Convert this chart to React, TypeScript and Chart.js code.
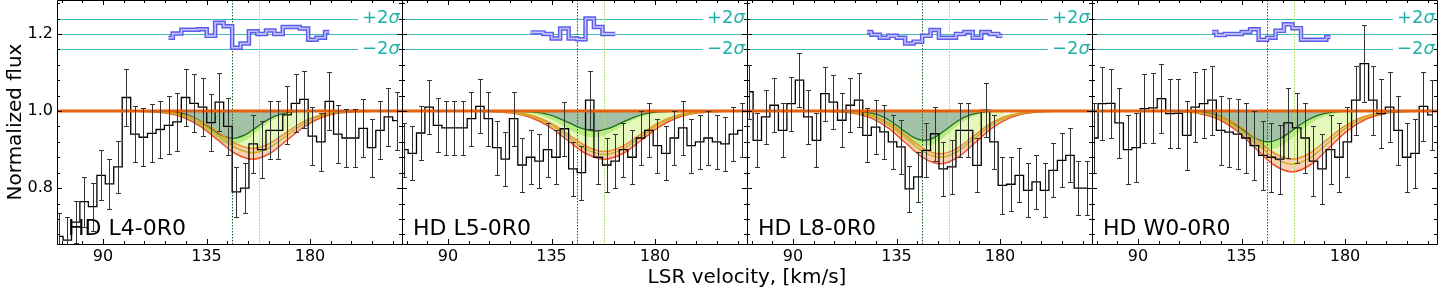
import React, { useEffect, useRef } from 'react';
import { Chart, registerables } from 'chart.js';
Chart.register(...registerables);
Chart.defaults.font.family = "'DejaVu Sans'";

const W = 1440;
const H = 288;
const PLOT_LEFT = 57;
const PANEL_W = 345;
const PLOT_BOTTOM = 244;
const X_MIN = 70;
const X_MAX = 220;
const Y_MIN = 0.655;
const Y_MAX = 1.288;

const velocity = [70.8, 74.5, 78.1, 81.8, 85.5, 89.2, 92.8, 96.5, 100.2, 103.9, 107.5, 111.2, 114.9, 118.5, 122.2, 125.9, 129.6, 133.3, 136.9, 140.6, 144.3, 148.0, 151.6, 155.3, 159.0, 162.7, 166.3, 170.0, 173.7, 177.4, 181.0, 184.7, 188.4, 192.1, 195.7, 199.4, 203.1, 206.8, 210.4, 214.1, 217.8];

const xMajorTicks = [90, 135, 180];
const xMinorTicks = [72, 81, 99, 108, 117, 126, 144, 153, 162, 171, 189, 198, 207, 216];
const yMajorTicks = [0.8, 1.0, 1.2];
const yMinorTicks = [0.68, 0.72, 0.76, 0.84, 0.88, 0.92, 0.96, 1.04, 1.08, 1.12, 1.16, 1.24, 1.28];

const panelLabels = ['HD L4-0R0', 'HD L5-0R0', 'HD L8-0R0', 'HD W0-0R0'];
const darkRefVelocity = 146;
const lightRefVelocity = 158;
const residualCenter = 1.2;
const residualPlus = 1.24;
const residualMinus = 1.16;

// ---- observed flux ----
const fluxL4 = [0.675, 0.665, 0.712, 0.765, 0.752, 0.833, 0.811, 0.855, 1.035, 0.94, 0.932, 0.942, 0.952, 0.963, 0.972, 1.035, 1.02, 1.01, 0.97, 1.023, 0.96, 0.79, 0.80, 0.915, 0.90, 0.95, 0.95, 0.99, 1.02, 1.03, 0.935, 0.92, 1.025, 0.94, 0.93, 0.93, 0.955, 0.905, 0.95, 0.985, 0.975];
const errL4 = [0.06, 0.06, 0.055, 0.065, 0.062, 0.065, 0.065, 0.068, 0.073, 0.072, 0.075, 0.075, 0.075, 0.075, 0.075, 0.075, 0.075, 0.075, 0.075, 0.075, 0.075, 0.065, 0.065, 0.075, 0.075, 0.075, 0.075, 0.075, 0.075, 0.075, 0.075, 0.075, 0.075, 0.075, 0.075, 0.075, 0.075, 0.075, 0.075, 0.075, 0.075];
const fluxL5 = [0.90, 0.89, 0.943, 1.01, 0.963, 0.956, 0.956, 0.956, 0.98, 1.012, 0.98, 0.905, 0.875, 0.98, 0.86, 0.88, 0.87, 0.90, 0.88, 0.954, 0.85, 0.84, 1.028, 0.88, 0.86, 0.87, 0.90, 0.88, 0.93, 0.95, 0.91, 0.89, 0.93, 0.956, 0.91, 0.92, 0.93, 0.92, 0.915, 0.94, 0.95];
const errL5 = [0.07, 0.07, 0.07, 0.07, 0.07, 0.07, 0.07, 0.07, 0.07, 0.07, 0.07, 0.07, 0.07, 0.07, 0.07, 0.07, 0.07, 0.07, 0.07, 0.07, 0.07, 0.07, 0.075, 0.07, 0.07, 0.07, 0.07, 0.07, 0.07, 0.07, 0.07, 0.07, 0.07, 0.07, 0.07, 0.07, 0.07, 0.07, 0.07, 0.07, 0.07];
const fluxL8 = [1.05, 0.924, 0.985, 1.015, 0.95, 1.019, 1.08, 0.985, 0.924, 1.045, 1.023, 0.976, 1.015, 1.028, 0.937, 0.958, 0.946, 0.92, 0.907, 0.798, 0.829, 0.898, 0.941, 0.85, 0.855, 0.95, 0.95, 0.859, 1.002, 0.92, 0.807, 0.81, 0.833, 0.794, 0.816, 0.794, 0.846, 0.872, 0.885, 0.80, 0.80];
const errL8 = [0.07, 0.07, 0.07, 0.07, 0.07, 0.07, 0.07, 0.07, 0.07, 0.07, 0.07, 0.07, 0.07, 0.07, 0.07, 0.07, 0.07, 0.07, 0.07, 0.06, 0.065, 0.07, 0.07, 0.07, 0.07, 0.07, 0.07, 0.07, 0.07, 0.07, 0.073, 0.07, 0.07, 0.07, 0.07, 0.07, 0.07, 0.07, 0.07, 0.07, 0.07];
const fluxW0 = [0.93, 1.019, 1.02, 0.969, 0.90, 0.905, 1.006, 1.008, 1.032, 0.993, 0.994, 0.937, 1.01, 1.019, 1.028, 0.95, 0.945, 0.94, 0.93, 0.91, 0.885, 0.88, 0.875, 0.969, 0.956, 0.93, 0.87, 0.85, 0.90, 0.88, 0.92, 1.028, 1.123, 1.028, 0.993, 1.01, 0.95, 0.88, 0.89, 1.012, 0.99];
const errW0 = [0.09, 0.095, 0.09, 0.09, 0.09, 0.09, 0.09, 0.09, 0.09, 0.09, 0.09, 0.09, 0.09, 0.09, 0.09, 0.09, 0.09, 0.09, 0.09, 0.09, 0.09, 0.09, 0.09, 0.09, 0.09, 0.09, 0.09, 0.09, 0.09, 0.09, 0.09, 0.09, 0.1, 0.09, 0.09, 0.09, 0.09, 0.09, 0.09, 0.09, 0.09];

// ---- residuals (offset to 1.2) ----
const resStartL4 = 13;
const resL4 = [1.19, 1.201, 1.211, 1.211, 1.212, 1.195, 1.229, 1.22, 1.164, 1.175, 1.207, 1.20, 1.209, 1.20, 1.218, 1.218, 1.214, 1.185, 1.19, 1.205];
const resStartL5 = 15;
const resL5 = [1.204, 1.204, 1.2, 1.188, 1.214, 1.188, 1.186, 1.24, 1.218, 1.2, 1.2];
const resStartL8 = 14;
const resL8 = [1.205, 1.198, 1.19, 1.195, 1.19, 1.175, 1.18, 1.195, 1.21, 1.19, 1.19, 1.2, 1.205, 1.19, 1.205, 1.2, 1.195];
const resStartW0 = 14;
const resW0 = [1.205, 1.197, 1.2, 1.2, 1.205, 1.212, 1.185, 1.19, 1.208, 1.225, 1.215, 1.185, 1.185, 1.185, 1.192];

// ---- model curves ----
const c1V_L4 = [111.5, 116.5, 121.5, 126.5, 131.5, 136.5, 141.5, 146.5, 151.5, 156.5, 161.5, 166.5, 171.5, 176.5, 181.5];
const c1F_L4 = [0.9998, 0.9992, 0.9969, 0.9904, 0.9769, 0.9569, 0.9373, 0.929, 0.9373, 0.9569, 0.9769, 0.9904, 0.9969, 0.9992, 0.9998];
const c1lV_L4 = [107.5, 113, 118.5, 124, 129.5, 135, 140.5, 146, 151.5, 157, 162.5, 168, 173.5, 179, 184.5];
const c1lF_L4 = [0.9998, 0.999, 0.9961, 0.9881, 0.9714, 0.9466, 0.9223, 0.912, 0.9223, 0.9466, 0.9714, 0.9881, 0.9961, 0.999, 0.9998];
const upV_L4 = [106, 113, 120, 127, 134, 141, 148, 155, 162, 169, 176, 183, 190, 197, 204];
const upF_L4 = [0.9998, 0.9989, 0.9957, 0.9869, 0.9685, 0.9412, 0.9144, 0.903, 0.9144, 0.9412, 0.9685, 0.9869, 0.9957, 0.9989, 0.9998];
const midV_L4 = [104.25, 111.5, 118.75, 126, 133.25, 140.5, 147.75, 155, 162.25, 169.5, 176.75, 184, 191.25, 198.5, 205.75];
const midF_L4 = [0.9998, 0.9988, 0.9953, 0.9854, 0.9649, 0.9345, 0.9047, 0.892, 0.9047, 0.9345, 0.9649, 0.9854, 0.9953, 0.9988, 0.9998];
const lowV_L4 = [102.5, 110, 117.5, 125, 132.5, 140, 147.5, 155, 162.5, 170, 177.5, 185, 192.5, 200, 207.5];
const lowF_L4 = [0.9997, 0.9986, 0.9945, 0.9831, 0.9594, 0.9242, 0.8897, 0.875, 0.8897, 0.9242, 0.9594, 0.9831, 0.9945, 0.9986, 0.9997];

const c1V_L5 = [115.5, 121, 126.5, 132, 137.5, 143, 148.5, 154, 159.5, 165, 170.5, 176, 181.5, 187, 192.5];
const c1F_L5 = [0.9999, 0.9994, 0.9977, 0.993, 0.9831, 0.9685, 0.9541, 0.948, 0.9541, 0.9685, 0.9831, 0.993, 0.9977, 0.9994, 0.9999];
const c1lV_L5 = [111, 117, 123, 129, 135, 141, 147, 153, 159, 165, 171, 177, 183, 189, 195];
const c1lF_L5 = [0.9999, 0.9992, 0.997, 0.9908, 0.9779, 0.9588, 0.94, 0.932, 0.94, 0.9588, 0.9779, 0.9908, 0.997, 0.9992, 0.9999];
const upV_L5 = [105.5, 113, 120.5, 128, 135.5, 143, 150.5, 158, 165.5, 173, 180.5, 188, 195.5, 203, 210.5];
const upF_L5 = [0.9998, 0.9988, 0.9954, 0.9858, 0.9659, 0.9363, 0.9073, 0.895, 0.9073, 0.9363, 0.9659, 0.9858, 0.9954, 0.9988, 0.9998];
const midV_L5 = [103.75, 111.5, 119.25, 127, 134.75, 142.5, 150.25, 158, 165.75, 173.5, 181.25, 189, 196.75, 204.5, 212.25];
const midF_L5 = [0.9998, 0.9987, 0.995, 0.9847, 0.9633, 0.9315, 0.9003, 0.887, 0.9003, 0.9315, 0.9633, 0.9847, 0.995, 0.9987, 0.9998];
const lowV_L5 = [102, 110, 118, 126, 134, 142, 150, 158, 166, 174, 182, 190, 198, 206, 214];
const lowF_L5 = [0.9997, 0.9986, 0.9945, 0.9831, 0.9594, 0.9242, 0.8897, 0.875, 0.8897, 0.9242, 0.9594, 0.9831, 0.9945, 0.9986, 0.9997];

const c1V_L8 = [112, 117, 122, 127, 132, 137, 142, 147, 152, 157, 162, 167, 172, 177, 182];
const c1F_L8 = [0.9998, 0.9992, 0.9967, 0.9897, 0.9753, 0.9539, 0.9329, 0.924, 0.9329, 0.9539, 0.9753, 0.9897, 0.9967, 0.9992, 0.9998];
const c1lV_L8 = [108.5, 114, 119.5, 125, 130.5, 136, 141.5, 147, 152.5, 158, 163.5, 169, 174.5, 180, 185.5];
const c1lF_L8 = [0.9998, 0.999, 0.996, 0.9876, 0.9701, 0.9442, 0.9188, 0.908, 0.9188, 0.9442, 0.9701, 0.9876, 0.996, 0.999, 0.9998];
const upV_L8 = [105, 112, 119, 126, 133, 140, 147, 154, 161, 168, 175, 182, 189, 196, 203];
const upF_L8 = [0.9998, 0.9988, 0.9951, 0.985, 0.964, 0.9327, 0.902, 0.889, 0.902, 0.9327, 0.964, 0.985, 0.9951, 0.9988, 0.9998];
const midV_L8 = [103.25, 110.5, 117.75, 125, 132.25, 139.5, 146.75, 154, 161.25, 168.5, 175.75, 183, 190.25, 197.5, 204.75];
const midF_L8 = [0.9997, 0.9987, 0.9947, 0.9838, 0.961, 0.9272, 0.8941, 0.88, 0.8941, 0.9272, 0.961, 0.9838, 0.9947, 0.9987, 0.9997];
const lowV_L8 = [101.5, 109, 116.5, 124, 131.5, 139, 146.5, 154, 161.5, 169, 176.5, 184, 191.5, 199, 206.5];
const lowF_L8 = [0.9997, 0.9985, 0.994, 0.9815, 0.9555, 0.9169, 0.8791, 0.863, 0.8791, 0.9169, 0.9555, 0.9815, 0.994, 0.9985, 0.9997];

const c1V_W0 = [108, 113.5, 119, 124.5, 130, 135.5, 141, 146.5, 152, 157.5, 163, 168.5, 174, 179.5, 185];
const c1F_W0 = [0.9998, 0.9991, 0.9965, 0.9892, 0.974, 0.9515, 0.9294, 0.92, 0.9294, 0.9515, 0.974, 0.9892, 0.9965, 0.9991, 0.9998];
const c1lV_W0 = [105, 111, 117, 123, 129, 135, 141, 147, 153, 159, 165, 171, 177, 183, 189];
const c1lF_W0 = [0.9998, 0.9989, 0.9956, 0.9865, 0.9675, 0.9394, 0.9118, 0.9, 0.9118, 0.9394, 0.9675, 0.9865, 0.9956, 0.9989, 0.9998];
const upV_W0 = [104.5, 112, 119.5, 127, 134.5, 142, 149.5, 157, 164.5, 172, 179.5, 187, 194.5, 202, 209.5];
const upF_W0 = [0.9997, 0.9986, 0.9945, 0.9831, 0.9594, 0.9242, 0.8897, 0.875, 0.8897, 0.9242, 0.9594, 0.9831, 0.9945, 0.9986, 0.9997];
const midV_W0 = [102.75, 110.5, 118.25, 126, 133.75, 141.5, 149.25, 157, 164.75, 172.5, 180.25, 188, 195.75, 203.5, 211.25];
const midF_W0 = [0.9997, 0.9985, 0.9939, 0.9813, 0.9552, 0.9163, 0.8782, 0.862, 0.8782, 0.9163, 0.9552, 0.9813, 0.9939, 0.9985, 0.9997];
const lowV_W0 = [101, 109, 117, 125, 133, 141, 149, 157, 165, 173, 181, 189, 197, 205, 213];
const lowF_W0 = [0.9997, 0.9982, 0.9931, 0.9786, 0.9487, 0.9042, 0.8606, 0.842, 0.8606, 0.9042, 0.9487, 0.9786, 0.9931, 0.9982, 0.9997];

const panels = [
  { label: panelLabels[0], flux: fluxL4, err: errL4, resStart: resStartL4, res: resL4, c1V: c1V_L4, c1F: c1F_L4, c1lV: c1lV_L4, c1lF: c1lF_L4, upV: upV_L4, upF: upF_L4, midV: midV_L4, midF: midF_L4, lowV: lowV_L4, lowF: lowF_L4 },
  { label: panelLabels[1], flux: fluxL5, err: errL5, resStart: resStartL5, res: resL5, c1V: c1V_L5, c1F: c1F_L5, c1lV: c1lV_L5, c1lF: c1lF_L5, upV: upV_L5, upF: upF_L5, midV: midV_L5, midF: midF_L5, lowV: lowV_L5, lowF: lowF_L5 },
  { label: panelLabels[2], flux: fluxL8, err: errL8, resStart: resStartL8, res: resL8, c1V: c1V_L8, c1F: c1F_L8, c1lV: c1lV_L8, c1lF: c1lF_L8, upV: upV_L8, upF: upF_L8, midV: midV_L8, midF: midF_L8, lowV: lowV_L8, lowF: lowF_L8 },
  { label: panelLabels[3], flux: fluxW0, err: errW0, resStart: resStartW0, res: resW0, c1V: c1V_W0, c1F: c1F_W0, c1lV: c1lV_W0, c1lF: c1lF_W0, upV: upV_W0, upF: upF_W0, midV: midV_W0, midF: midF_W0, lowV: lowV_W0, lowF: lowF_W0 },
];

const TEAL = '#20b2aa';
const CLEAR = 'rgba(0,0,0,0)';

function pts(xs: number[], ys: number[]) {
  return xs.map((x, i) => ({ x, y: ys[i] }));
}

function PanelChart({ index }: { index: number }) {
  const ref = useRef<HTMLCanvasElement>(null);
  useEffect(() => {
    const p = panels[index];
    const left = PLOT_LEFT + PANEL_W * index;
    const right = left + PANEL_W;
    const resVel = velocity.slice(p.resStart, p.resStart + p.res.length);
    const smooth = { cubicInterpolationMode: 'monotone' as const, pointRadius: 0 };
    const datasets: any[] = [
      { data: [{ x: X_MIN, y: 1 }, { x: X_MAX, y: 1 }], borderColor: '#e5600c', borderWidth: 2.8, order: 0, fill: false, pointRadius: 0 },
      { data: pts(velocity, p.flux), borderColor: '#000000', borderWidth: 1.3, stepped: 'middle', order: 1, fill: false, pointRadius: 0 },
      { data: pts(resVel, p.res), borderColor: 'rgb(92,92,238)', borderWidth: 4.5, stepped: 'middle', order: 3, fill: false, pointRadius: 0 },
      { data: pts(resVel, p.res), borderColor: 'rgb(196,196,250)', borderWidth: 1.6, stepped: 'middle', order: 2, fill: false, pointRadius: 0 },
      { data: pts(p.c1V, p.c1F), borderColor: '#1f6b26', borderWidth: 1.3, order: 9, fill: { target: 0, above: CLEAR, below: 'rgba(48,118,60,0.45)' }, ...smooth },
      { data: pts(p.c1lV, p.c1lF), borderColor: CLEAR, borderWidth: 0, order: 8, fill: { target: 4, above: CLEAR, below: 'rgba(100,222,60,0.6)' }, ...smooth },
      { data: pts(p.upV, p.upF), borderColor: '#e8912d', borderWidth: 1.5, order: 7, fill: { target: 4, above: CLEAR, below: 'rgba(205,240,120,0.5)' }, ...smooth },
      { data: pts(p.lowV, p.lowF), borderColor: '#f0502a', borderWidth: 1.5, order: 6, fill: { target: 6, above: CLEAR, below: 'rgba(246,150,100,0.45)' }, ...smooth },
      { data: pts(p.midV, p.midF), borderColor: '#c9b41e', borderWidth: 1.5, order: 5, fill: false, ...smooth },
    ];

    const decor = {
      id: 'decor' + index,
      beforeDatasetsDraw(chart: any) {
        const { ctx, chartArea: a, scales } = chart;
        const y = scales.y;
        const x = scales.x;
        ctx.save();
        ctx.beginPath();
        ctx.rect(a.left, a.top, a.right - a.left, a.bottom - a.top);
        ctx.clip();
        ctx.lineWidth = 1;
        ctx.strokeStyle = 'rgba(32,178,170,0.85)';
        const yc = Math.round(y.getPixelForValue(residualCenter)) + 0.5;
        ctx.beginPath();
        ctx.moveTo(a.left, yc);
        ctx.lineTo(a.right, yc);
        ctx.stroke();
        [residualPlus, residualMinus].forEach((v) => {
          const yy = Math.round(y.getPixelForValue(v)) + 0.5;
          ctx.beginPath();
          ctx.moveTo(a.left, yy);
          ctx.lineTo(a.right - 44, yy);
          ctx.stroke();
        });
        const xd = Math.round(x.getPixelForValue(darkRefVelocity)) + 0.5;
        ctx.strokeStyle = '#1e5e22';
        ctx.setLineDash([1.5, 1.5]);
        ctx.beginPath();
        ctx.moveTo(xd, a.top);
        ctx.lineTo(xd, a.bottom);
        ctx.stroke();
        const xl = Math.round(x.getPixelForValue(lightRefVelocity)) + 0.5;
        ctx.strokeStyle = '#b2e07a';
        ctx.setLineDash([2, 1]);
        ctx.beginPath();
        ctx.moveTo(xl, a.top);
        ctx.lineTo(xl, a.bottom);
        ctx.stroke();
        ctx.restore();
      },
      afterDatasetsDraw(chart: any) {
        const { ctx, chartArea: a, scales } = chart;
        const y = scales.y;
        const x = scales.x;
        ctx.save();
        ctx.beginPath();
        ctx.rect(a.left, a.top, a.right - a.left, a.bottom - a.top);
        ctx.clip();
        ctx.strokeStyle = '#333333';
        ctx.lineWidth = 1;
        velocity.forEach((v, i) => {
          const px = Math.round(x.getPixelForValue(v)) + 0.5;
          const y1 = Math.round(y.getPixelForValue(p.flux[i] + p.err[i])) + 0.5;
          const y2 = Math.round(y.getPixelForValue(p.flux[i] - p.err[i])) + 0.5;
          ctx.beginPath();
          ctx.moveTo(px, y1);
          ctx.lineTo(px, y2);
          ctx.moveTo(px - 2.5, y1);
          ctx.lineTo(px + 2.5, y1);
          ctx.moveTo(px - 2.5, y2);
          ctx.lineTo(px + 2.5, y2);
          ctx.stroke();
        });
        ctx.restore();
      },
      afterDraw(chart: any) {
        const { ctx, chartArea: a, scales } = chart;
        const y = scales.y;
        const x = scales.x;
        ctx.save();
        ctx.strokeStyle = '#000';
        ctx.lineWidth = 1;
        ctx.beginPath();
        ctx.moveTo(a.left + 0.5, a.top + 0.5);
        ctx.lineTo(a.right + 0.5, a.top + 0.5);
        ctx.lineTo(a.right + 0.5, a.bottom + 0.5);
        ctx.lineTo(a.left + 0.5, a.bottom + 0.5);
        ctx.closePath();
        ctx.stroke();
        const xt = (v: number, len: number) => {
          const px = Math.round(x.getPixelForValue(v)) + 0.5;
          ctx.moveTo(px, a.bottom);
          ctx.lineTo(px, a.bottom - len);
          ctx.moveTo(px, a.top);
          ctx.lineTo(px, a.top + len);
        };
        const yt = (v: number, len: number) => {
          const py = Math.round(y.getPixelForValue(v)) + 0.5;
          ctx.moveTo(a.left, py);
          ctx.lineTo(a.left + len, py);
          ctx.moveTo(a.right, py);
          ctx.lineTo(a.right - len, py);
        };
        ctx.beginPath();
        xMajorTicks.forEach((v) => xt(v, 5));
        xMinorTicks.forEach((v) => xt(v, 3));
        yMajorTicks.forEach((v) => yt(v, 5));
        yMinorTicks.forEach((v) => yt(v, 3));
        ctx.stroke();

        ctx.fillStyle = '#000';
        ctx.font = "22px 'DejaVu Sans'";
        ctx.textAlign = 'left';
        ctx.textBaseline = 'alphabetic';
        ctx.fillText(p.label, a.left + 11, 235);

        ctx.fillStyle = TEAL;
        ctx.textBaseline = 'middle';
        const drawSigma = (sign: string, v: number) => {
          const py = y.getPixelForValue(v);
          const x0 = a.right - 40;
          ctx.font = "18px 'DejaVu Sans'";
          ctx.fillText(sign + '2', x0, py);
          const w = ctx.measureText(sign + '2').width;
          ctx.font = "italic 18px 'DejaVu Sans'";
          ctx.fillText('σ', x0 + w, py);
        };
        drawSigma('+', residualPlus);
        drawSigma('−', residualMinus);

        if (index === 0) {
          ctx.fillStyle = '#000';
          ctx.font = "20px 'DejaVu Sans'";
          ctx.textAlign = 'center';
          ctx.textBaseline = 'alphabetic';
          ctx.fillText('LSR velocity, [km/s]', (PLOT_LEFT + PLOT_LEFT + PANEL_W * 4) / 2, 283);
          ctx.save();
          ctx.translate(21, (a.top + a.bottom) / 2);
          ctx.rotate(-Math.PI / 2);
          ctx.fillText('Normalized flux', 0, 0);
          ctx.restore();
        }
        ctx.restore();
      },
    };

    const chart = new Chart(ref.current as HTMLCanvasElement, {
      type: 'line',
      data: { datasets },
      options: {
        responsive: false,
        animation: false,
        events: [],
        layout: { padding: { left: index === 0 ? 0 : left, right: W - right, top: 0, bottom: 0 } },
        elements: { point: { radius: 0 } },
        plugins: {
          legend: { display: false },
          tooltip: { enabled: false },
          filler: { drawTime: 'beforeDatasetsDraw', propagate: false },
        } as any,
        scales: {
          x: {
            type: 'linear',
            min: X_MIN,
            max: X_MAX,
            grid: { display: false, drawTicks: false },
            border: { display: false },
            afterBuildTicks: (s: any) => {
              s.ticks = xMajorTicks.map((v) => ({ value: v }));
            },
            afterFit: (s: any) => {
              s.height = H - PLOT_BOTTOM;
              s.paddingLeft = 0;
              s.paddingRight = 0;
            },
            ticks: {
              autoSkip: false,
              maxRotation: 0,
              padding: 3,
              color: '#000',
              font: { size: 16 },
              callback: (v: any) => String(v),
            },
          },
          y: {
            type: 'linear',
            display: index === 0,
            min: Y_MIN,
            max: Y_MAX,
            grid: { display: false, drawTicks: false },
            border: { display: false },
            afterBuildTicks: (s: any) => {
              s.ticks = yMajorTicks.map((v) => ({ value: v }));
            },
            afterFit: (s: any) => {
              s.width = index === 0 ? PLOT_LEFT : 0;
              s.paddingTop = 0;
              s.paddingBottom = 0;
            },
            ticks: {
              padding: 4,
              color: '#000',
              font: { size: 16 },
              callback: (v: any) => Number(v).toFixed(1),
            },
          },
        },
      } as any,
      plugins: [decor],
    });
    return () => chart.destroy();
  }, [index]);
  return (
    <canvas
      ref={ref}
      width={W}
      height={H}
      style={{ position: 'absolute', left: 0, top: 0, width: W, height: H }}
    />
  );
}

export default function App() {
  return (
    <div style={{ position: 'absolute', left: 0, top: 0, width: W, height: H, background: '#ffffff' }}>
      {panels.map((_, i) => (
        <PanelChart key={i} index={i} />
      ))}
    </div>
  );
}
